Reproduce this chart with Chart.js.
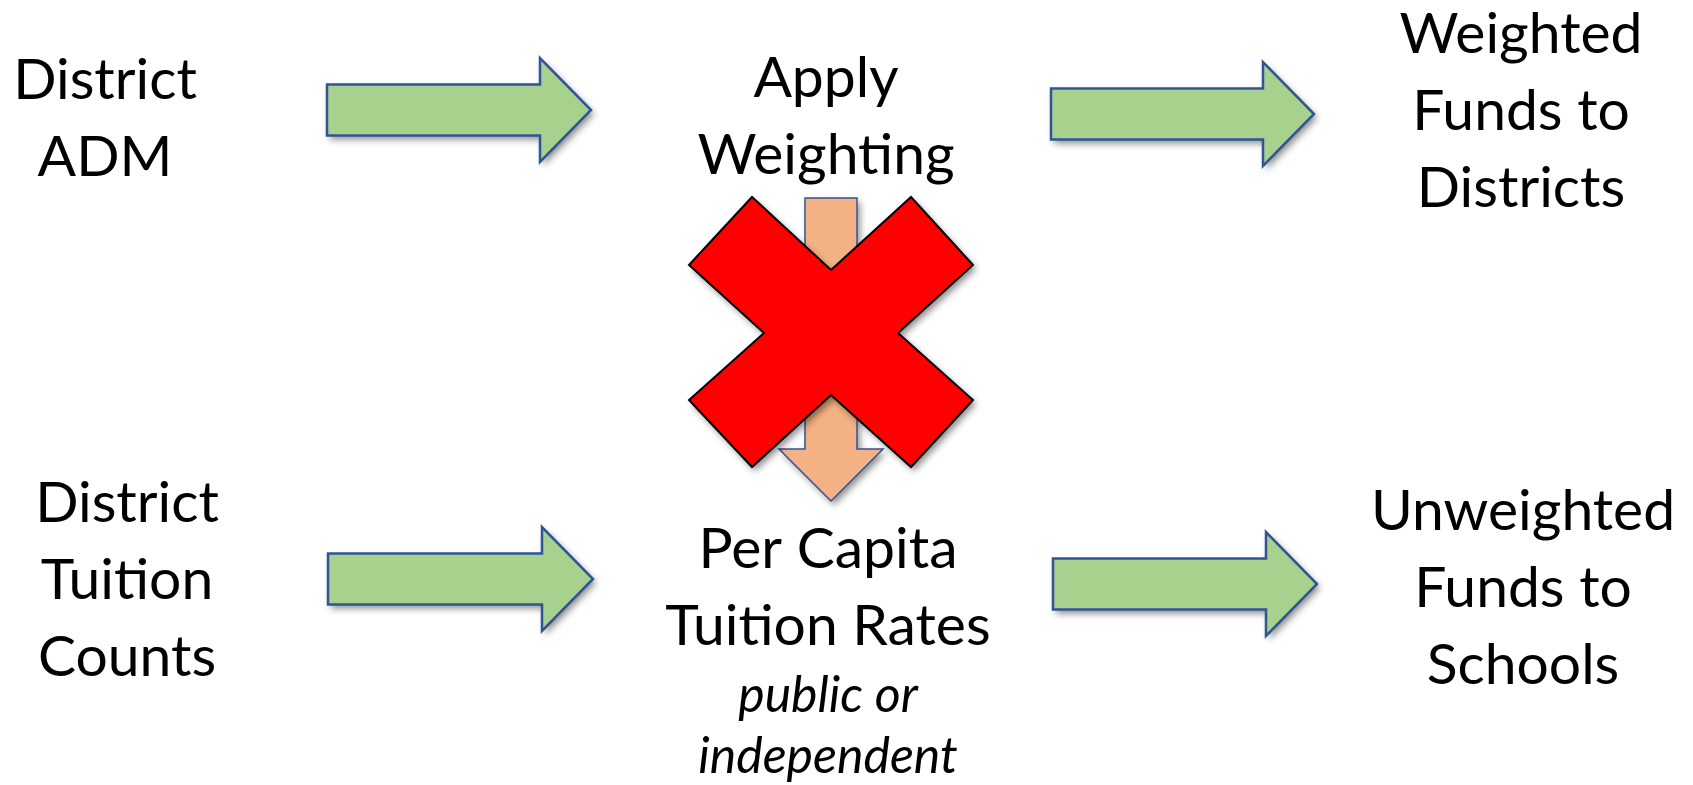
<!DOCTYPE html>
<html>
<head>
<meta charset="utf-8">
<script src="https://cdn.jsdelivr.net/npm/chart.js"></script>
<style>
  html, body { margin: 0; padding: 0; background: #fff; }
  #wrap { width: 1693px; height: 785px; position: relative; }
</style>
</head>
<body>
<div id="wrap"><canvas id="flow"></canvas></div>
<script>
// boxes of the flow, line by line
const nodeLines = [
  ["District", "ADM"],
  ["Apply", "Weighting"],
  ["Weighted", "Funds to", "Districts"],
  ["District", "Tuition", "Counts"],
  ["Per Capita", "Tuition Rates"],
  ["Unweighted", "Funds to", "Schools"],
];
const nodeNotes = [[], [], [], [], ["public or", "independent"], []];

// where each box sits (x centre, first baseline) in page units
const nodeX = [105, 826, 1521, 127, 828, 1523];
const nodeBaseline = [99, 97, 53, 522, 568, 530];

// green flow arrows: shaft start, tip, centre line
const flowFrom = [327, 1051, 328, 1053];
const flowTo = [591, 1314, 593, 1317];
const flowY = [110, 114, 579, 584];

// the blocked link (weighting -> tuition rates)
const blockedX = 831;
const blockedFrom = 198;
const blockedTo = 501;
const crossX = 831;
const crossY = 333;

const SHAFT = 25.5;
const HEAD = 52;
const HEAD_LEN = 51;

function rightArrow(x0, x1, y) {
  const xh = x1 - HEAD_LEN;
  return [
    { x: x0, y: y },
    { x: x0, y: y - SHAFT },
    { x: xh, y: y - SHAFT },
    { x: xh, y: y - HEAD },
    { x: x1, y: y },
    { x: xh, y: y + HEAD },
    { x: xh, y: y + SHAFT },
    { x: x0, y: y + SHAFT },
    { x: x0, y: y },
  ];
}

function downArrow(x, y0, y1) {
  const yh = y1 - 52;
  return [
    { x: x, y: y0 },
    { x: x + 26, y: y0 },
    { x: x + 26, y: yh },
    { x: x + 52, y: yh },
    { x: x, y: y1 },
    { x: x - 52, y: yh },
    { x: x - 26, y: yh },
    { x: x - 26, y: y0 },
    { x: x, y: y0 },
  ];
}

function cross(cx, cy) {
  const pts = [
    [0, -63], [80, -136], [142, -68], [67, 0], [142, 67], [80, 134],
    [0, 62], [-79, 134], [-142, 67], [-67, 0], [-142, -68], [-79, -136], [0, -63],
  ];
  return pts.map(p => ({ x: cx + p[0], y: cy + p[1] }));
}

const datasets = [];
datasets.push({
  data: cross(crossX, crossY),
  borderColor: "#000000",
  borderWidth: 2,
  shapeFill: "#FF0000",
  order: 0,
});
datasets.push({
  data: downArrow(blockedX, blockedFrom, blockedTo),
  borderColor: "#2F5597",
  borderWidth: 1.5,
  shapeFill: "#F4B183",
  order: 1,
});
for (let i = 0; i < flowFrom.length; i++) {
  datasets.push({
    data: rightArrow(flowFrom[i], flowTo[i], flowY[i]),
    borderColor: "#2F5597",
    borderWidth: 2.5,
    shapeFill: "#A9D18E",
    order: 2,
  });
}
datasets.forEach(d => {
  d.showLine = true;
  d.fill = false;
  d.pointRadius = 0;
  d.tension = 0;
  d.borderJoinStyle = "miter";
  d.clip = false;
});

// fill each closed outline (with a soft drop shadow) before its border is stroked
const shapeFiller = {
  id: "shapeFiller",
  beforeDatasetDraw(chart, args) {
    const ds = chart.data.datasets[args.index];
    if (!ds.shapeFill) return;
    const pts = args.meta.data;
    const ctx = chart.ctx;
    ctx.save();
    ctx.beginPath();
    pts.forEach((p, i) => (i === 0 ? ctx.moveTo(p.x, p.y) : ctx.lineTo(p.x, p.y)));
    ctx.closePath();
    ctx.shadowColor = "rgba(0,0,0,0.45)";
    ctx.shadowBlur = 7;
    ctx.shadowOffsetX = 3;
    ctx.shadowOffsetY = 4;
    ctx.fillStyle = ds.shapeFill;
    ctx.fill();
    ctx.restore();
  },
};

const nodeText = {
  id: "nodeText",
  afterDatasetsDraw(chart) {
    const ctx = chart.ctx;
    const xs = chart.scales.x;
    const ys = chart.scales.y;
    ctx.save();
    ctx.fillStyle = "#000000";
    ctx.textAlign = "center";
    ctx.textBaseline = "alphabetic";
    for (let i = 0; i < nodeLines.length; i++) {
      const px = xs.getPixelForValue(nodeX[i]);
      let base = nodeBaseline[i];
      ctx.font = "57px Lato";
      nodeLines[i].forEach(line => {
        ctx.fillText(line, px, ys.getPixelForValue(base));
        base += 77;
      });
      ctx.font = "italic 50px Lato";
      base -= 77 - 67;
      nodeNotes[i].forEach(line => {
        ctx.fillText(line, px, ys.getPixelForValue(base));
        base += 61;
      });
    }
    ctx.restore();
  },
};

new Chart(document.getElementById("flow"), {
  type: "scatter",
  data: { datasets: datasets },
  options: {
    responsive: true,
    maintainAspectRatio: false,
    animation: false,
    layout: { padding: 0 },
    scales: {
      x: { type: "linear", min: 0, max: 1693, display: false },
      y: { type: "linear", min: 0, max: 785, reverse: true, display: false },
    },
    plugins: {
      legend: { display: false },
      tooltip: { enabled: false },
    },
    events: [],
  },
  plugins: [shapeFiller, nodeText],
});
</script>
</body>
</html>
